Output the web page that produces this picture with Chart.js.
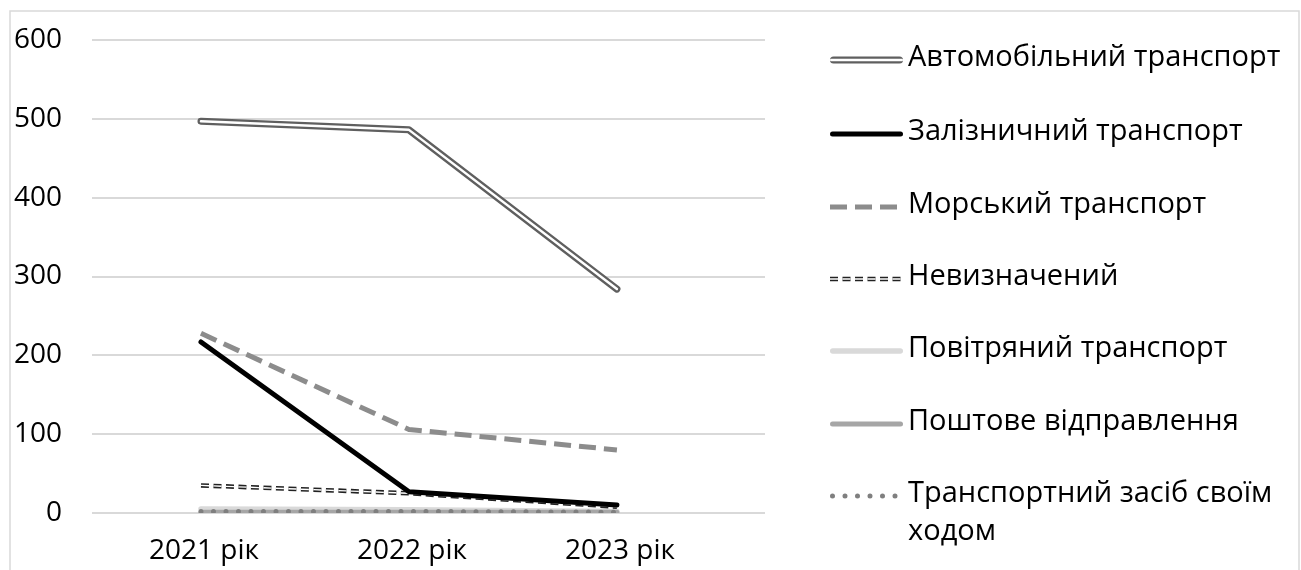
<!DOCTYPE html>
<html>
<head>
<meta charset="utf-8">
<script src="https://cdn.jsdelivr.net/npm/chart.js@4/dist/chart.umd.min.js"></script>
<style>
html,body{margin:0;padding:0;background:#fff;}
#wrap{width:1301px;height:570px;position:relative;overflow:hidden;}
canvas{display:block;}
</style>
</head>
<body>
<div id="wrap"><canvas id="c" width="1301" height="570"></canvas></div>
<script>
// ---- data ----
const categories = ['2021 рік', '2022 рік', '2023 рік'];
const seriesNames = [
  'Автомобільний транспорт',
  'Залізничний транспорт',
  'Морський транспорт',
  'Невизначений',
  'Повітряний транспорт',
  'Поштове відправлення',
  'Транспортний засіб своїм ходом'
];
const avtoValues  = [497, 486, 284];
const railValues  = [217, 27, 10];
const seaValues   = [228, 106, 80];
const undefValues = [35, 25, 8];
const airValues   = [5, 4, 2];
const postValues  = [1, 1, 1];
const selfValues  = [2, 2, 1];
const yTickValues = [0, 100, 200, 300, 400, 500, 600];

const seriesValues = [avtoValues, railValues, seaValues, undefValues, airValues, postValues, selfValues];

// ---- styles ----
const seriesStyles = [
  {z: 0, layers: [{color: '#5f5f5f', width: 7, dash: [], cap: 'round'}, {color: '#ffffff', width: 2.5, dash: [], cap: 'round'}]},
  {z: 1, layers: [{color: '#000000', width: 5, dash: [], cap: 'round'}]},
  {z: 3, layers: [{color: '#8c8c8c', width: 5, dash: [17, 8], cap: 'butt'}]},
  {z: 2, layers: [{color: '#222222', width: 4.5, dash: [8, 4.5], cap: 'butt'}, {color: '#ffffff', width: 1.4, dash: [8, 4.5], cap: 'butt'}]},
  {z: 6, layers: [{color: '#d9d9d9', width: 5.5, dash: [], cap: 'round'}]},
  {z: 5, layers: [{color: '#a6a6a6', width: 5, dash: [], cap: 'round'}]},
  {z: 4, layers: [{color: '#7f7f7f', width: 5, dash: [0, 12.5], cap: 'round'}]}
];

const FONT = '"Open Sans", "Noto Sans", sans-serif';

const datasets = [];
seriesValues.forEach((vals, si) => {
  const st = seriesStyles[si];
  st.layers.forEach((ly, li) => {
    datasets.push({
      label: seriesNames[si] + (li ? ' (inner)' : ''),
      data: vals.map((v, i) => ({x: i, y: v})),
      borderColor: ly.color,
      borderWidth: ly.width,
      borderDash: ly.dash,
      borderCapStyle: ly.cap,
      borderJoinStyle: 'round',
      pointRadius: 0,
      pointHoverRadius: 0,
      fill: false,
      tension: 0,
      order: st.z * 10 + (st.layers.length - 1 - li)
    });
  });
});

const frame = {
  id: 'frame',
  beforeDraw(chart) {
    const ctx = chart.ctx;
    ctx.save();
    ctx.fillStyle = '#ffffff';
    ctx.fillRect(0, 0, chart.width, chart.height);
    ctx.strokeStyle = '#d9d9d9';
    ctx.lineWidth = 1.5;
    ctx.strokeRect(10, 11, 1289, 620);
    ctx.restore();
  }
};

const customLegend = {
  id: 'customLegend',
  afterDraw(chart) {
    const ctx = chart.ctx;
    const x0 = 830, x1 = 903, tx = 908, maxW = 1295 - tx;
    const rowY = [60, 134, 207, 279, 351, 424, 496];
    const lineH = 38;
    ctx.save();
    ctx.font = '29px ' + FONT;
    ctx.textBaseline = 'middle';
    ctx.textAlign = 'left';
    seriesNames.forEach((name, si) => {
      const y = rowY[si];
      seriesStyles[si].layers.forEach(ly => {
        ctx.beginPath();
        ctx.strokeStyle = ly.color;
        ctx.lineWidth = ly.width;
        ctx.setLineDash(ly.dash);
        ctx.lineCap = ly.cap;
        const inset = ly.cap === 'round' ? ly.width / 2 : 0;
        ctx.moveTo(x0 + inset, y);
        ctx.lineTo(x1 - inset, y);
        ctx.stroke();
      });
      ctx.setLineDash([]);
      ctx.fillStyle = '#000000';
      const words = name.split(' ');
      const lines = [];
      let cur = '';
      words.forEach(w => {
        const test = cur ? cur + ' ' + w : w;
        if (ctx.measureText(test).width > maxW && cur) { lines.push(cur); cur = w; }
        else cur = test;
      });
      lines.push(cur);
      lines.forEach((ln, k) => ctx.fillText(ln, tx, y - 2 + k * lineH));
    });
    ctx.restore();
  }
};

new Chart(document.getElementById('c'), {
  type: 'line',
  data: { datasets },
  plugins: [frame, customLegend],
  options: {
    responsive: false,
    animation: false,
    layout: { padding: { left: 0, right: 536, top: 40, bottom: 0 } },
    plugins: { legend: { display: false }, tooltip: { enabled: false } },
    scales: {
      x: {
        type: 'linear',
        min: -0.524,
        max: 2.712,
        afterBuildTicks: s => { s.ticks = categories.map((c, i) => ({value: i})); },
        afterFit: s => { s.height = 57; s.paddingLeft = 0; s.paddingRight = 0; },
        grid: { display: false, drawTicks: false },
        border: { display: false },
        ticks: {
          callback: v => categories[v],
          font: { family: FONT, size: 28 },
          color: '#000000',
          padding: 21,
          labelOffset: 3,
          maxRotation: 0,
          autoSkip: false
        }
      },
      y: {
        min: 0,
        max: 600,
        afterBuildTicks: s => { s.ticks = yTickValues.map(v => ({value: v})); },
        afterFit: s => { s.width = 92; s.paddingTop = 0; s.paddingBottom = 0; },
        grid: { color: '#d9d9d9', lineWidth: 2, drawTicks: false },
        border: { display: false },
        ticks: {
          font: { family: FONT, size: 28 },
          color: '#000000',
          padding: 30
        }
      }
    }
  }
});
</script>
</body>
</html>
